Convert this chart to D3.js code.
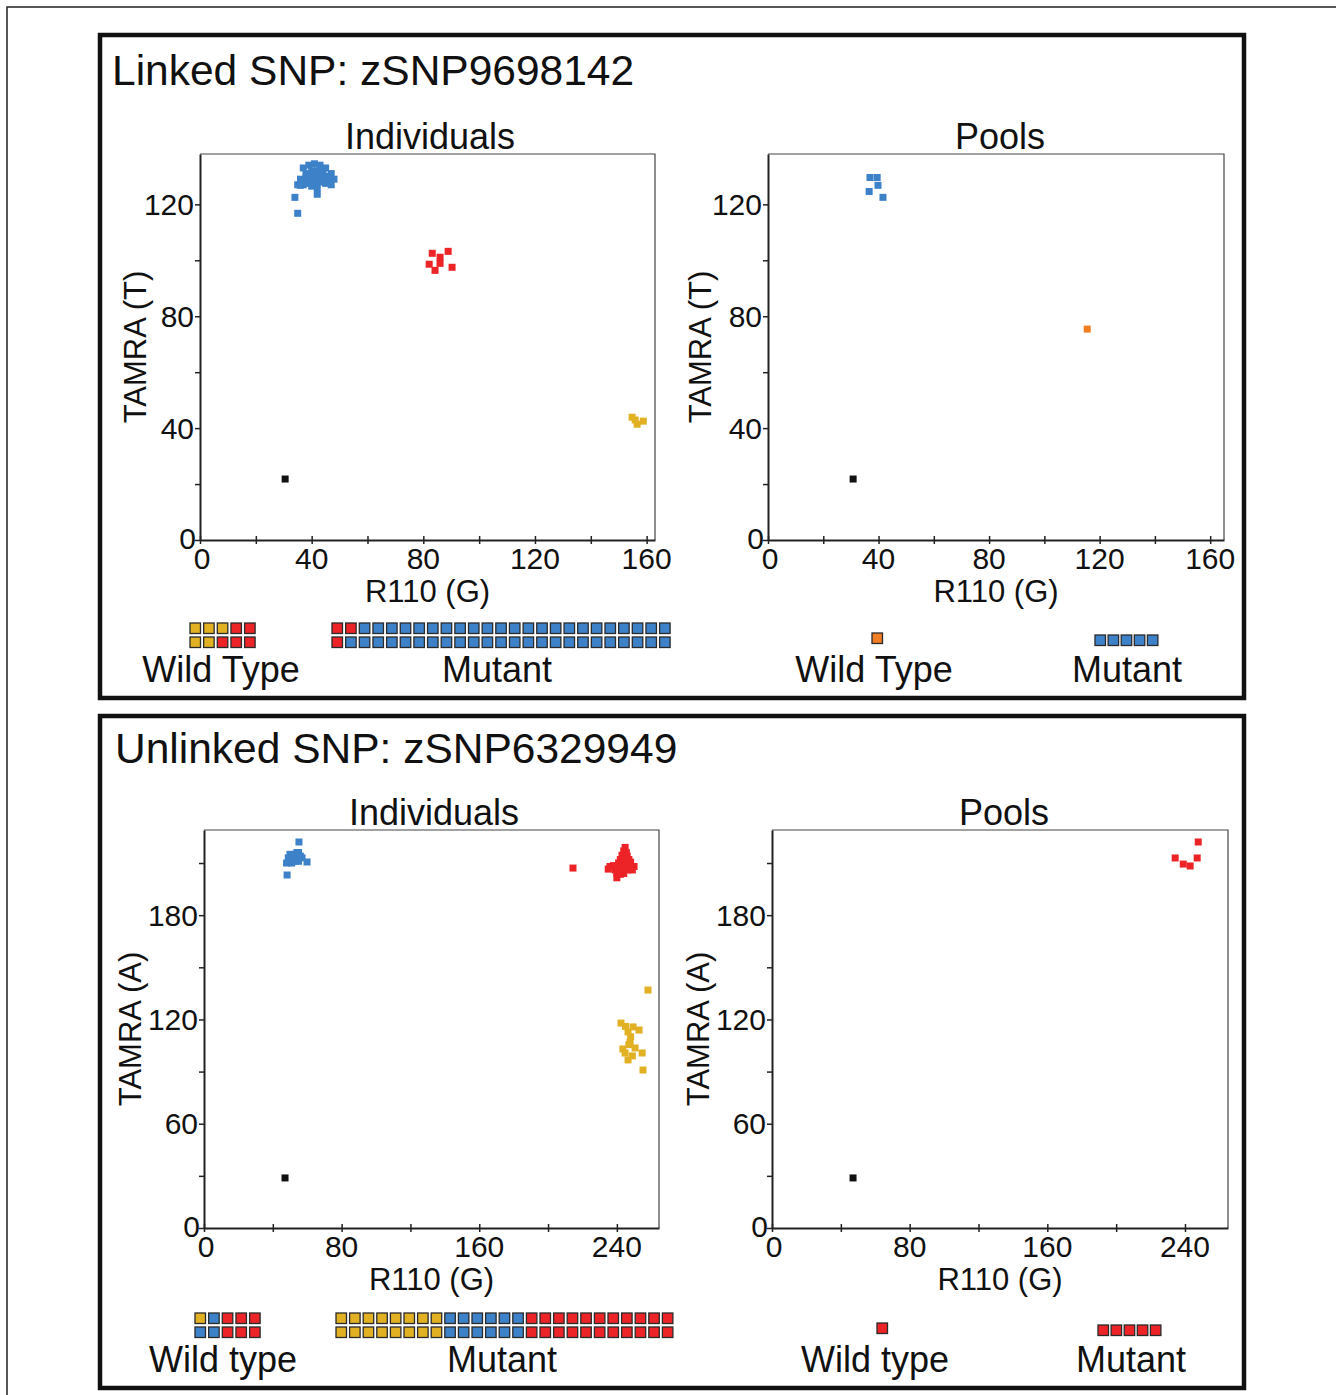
<!doctype html>
<html lang="en">
<head>
  <meta charset="utf-8">
  <title>Linked / unlinked SNP genotyping</title>
  <style>
    body { margin: 0; background: #fff; }
    svg text { font-family: "Liberation Sans", Arial, Helvetica, sans-serif; fill: #111; }
  </style>
</head>
<body>
<script src="https://d3js.org/d3.v7.min.js"></script>
<svg id="fig" width="1336" height="1395"></svg>
<script>
    // ---- data ----
    // linked SNP, individuals: [R110, TAMRA]
    var linkedIndBlue = [[37,133],[39,134],[41,134.5],[43,134],[45,133],[47,131],[38,131],[40,132],[42,132],
      [44,131],[46,130],[36,129],[38,129],[40,130],[42,130],[44,129],[46,128],[35,127],[37,127],[39,127.5],
      [41,128],[43,128],[45,127.5],[36,128.5],[40,126.5],[42,126],[38,130],[44,132.5],[41,131],[39,128.5],
      [43,130.5],[45,129.5],[36,126.8],[48,129],[34,122.5],[35,116.8],[42,123.6],[47,127]];
    var linkedIndRed = [[83.2,102.5],[88.9,103.2],[86,101.1],[86,98.9],[82.1,98.6],[84.2,96.4],[90.3,97.5]];
    var linkedIndYellow = [[154.8,43.9],[156.6,41.4],[158.8,42.5],[155.9,42.9]];
    var linkedIndBlack = [[30.5,21.8]];
    // linked SNP, pools
    var linkedPoolBlue = [[36.9,129.6],[39.5,129.6],[39.8,126.8],[36.6,124.6],[41.6,122.5]];
    var linkedPoolOrange = [[115.5,75.4]];
    var linkedPoolBlack = [[30.8,21.8]];
    // unlinked SNP, individuals
    var unlinkedIndBlue = [[49,213],[51,214],[53,215],[55,216],[50,211],[52,212],[54,213],[56,214],[48,210],
      [51,210],[53,211],[57,213],[55,211],[50,215],[54,216],[55.2,222.1],[59.9,210.6],[48.3,203.1]];
    var unlinkedIndRed = [[244.8,219],[244,217],[245.5,216],[243,214.5],[246,214],[244.5,212.5],[242,212],
      [247,212],[241,210],[243.5,210],[246,210],[248,210.5],[236,208],[238,208.5],[240,208],[242.5,208],
      [245,208],[247.5,208],[250,208],[235,206.5],[239,206],[243,206],[246,206],[249,206],[240,204],
      [242,203.5],[244,204],[240,201.5],[214.5,207.1]];
    var unlinkedIndYellow = [[242.4,117.9],[249.4,115.7],[252.9,113.9],[246.5,112.8],[247.7,107],[250.6,103.6],
      [244.8,100.7],[246.5,96.7],[254.7,100.7],[255.2,90.9],[258.1,136.9],[245,116],[248,110],[243.5,103],
      [249,99],[247,105.5]];
    var unlinkedIndBlack = [[47.1,28.8]];
    // unlinked SNP, pools
    var unlinkedPoolRed = [[247.7,222.1],[234.3,212.9],[247.1,212.9],[239,209.4],[243,208.3]];
    var unlinkedPoolBlack = [[47.1,28.8]];

    // genotype legend grids (row by row)
    var linkedIndWT = [["Y","Y","Y","R","R"],["Y","Y","R","R","R"]];
    var linkedIndMut = [["R","R"].concat(d3.range(23).map(function(){return "B";})),
                        ["R"].concat(d3.range(24).map(function(){return "B";}))];
    var linkedPoolWT = [["O"]];
    var linkedPoolMut = [["B","B","B","B","B"]];
    var unlinkedIndWT = [["Y","B","R","R","R"],["B","B","R","R","R"]];
    var unlinkedRow = d3.range(8).map(function(){return "Y";})
      .concat(d3.range(6).map(function(){return "B";}))
      .concat(d3.range(11).map(function(){return "R";}));
    var unlinkedIndMut = [unlinkedRow, unlinkedRow];
    var unlinkedPoolWT = [["R"]];
    var unlinkedPoolMut = [["R","R","R","R","R"]];

    var colors = { B: "#3d82c9", R: "#ec2327", Y: "#e1b123", O: "#f17e22", K: "#111" };

    var svg = d3.select("#fig");

    // outer page border and panel frames
    svg.append("rect").attr("x", 7).attr("y", 7).attr("width", 1345).attr("height", 1400)
      .attr("fill", "none").attr("stroke", "#222").attr("stroke-width", 1.5);
    [[35, 663], [716, 672]].forEach(function(p) {
      svg.append("rect").attr("x", 100).attr("y", p[0]).attr("width", 1144).attr("height", p[1])
        .attr("fill", "none").attr("stroke", "#111").attr("stroke-width", 4.5);
    });

    svg.append("text").attr("x", 112).attr("y", 85).attr("font-size", 42.5).text("Linked SNP: zSNP9698142");
    svg.append("text").attr("x", 115).attr("y", 763).attr("font-size", 42.5).text("Unlinked SNP: zSNP6329949");

    function scatter(o) {
      var x = d3.scaleLinear().domain(o.xDomain).range([o.left, o.right]);
      var y = d3.scaleLinear().domain(o.yDomain).range([o.bottom, o.top]);
      var g = svg.append("g");

      g.append("text").attr("x", o.titleX).attr("y", o.top - 5).attr("text-anchor", "middle")
        .attr("font-size", 36).text(o.title);

      // plot box: thin top/right, heavier axes
      g.append("path").attr("d", "M" + o.left + "," + o.top + "H" + o.right + "V" + o.bottom)
        .attr("fill", "none").attr("stroke", "#444").attr("stroke-width", 1.2);

      var xa = g.append("g").attr("transform", "translate(0," + o.bottom + ")")
        .call(d3.axisBottom(x).tickValues(d3.range(0, o.xDomain[1], o.xMinor)).tickSize(0).tickFormat(""));
      xa.selectAll(".tick").append("line").attr("y1", -4).attr("y2", 4).attr("stroke", "#222").attr("stroke-width", 1.5);
      xa.select(".domain").attr("stroke", "#222").attr("stroke-width", 2);
      o.xLabels.forEach(function(v) {
        g.append("text").attr("x", x(v) + (v === 0 ? 2 : 0)).attr("y", o.bottom + 29).attr("text-anchor", "middle")
          .attr("font-size", 30).text(v);
      });

      var ya = g.append("g").attr("transform", "translate(" + o.left + ",0)")
        .call(d3.axisLeft(y).tickValues(d3.range(0, o.yDomain[1], o.yMinor)).tickSize(0).tickFormat(""));
      ya.selectAll(".tick").append("line").attr("x1", -5).attr("x2", 0).attr("stroke", "#222").attr("stroke-width", 1.5);
      ya.select(".domain").attr("stroke", "#222").attr("stroke-width", 2);
      o.yLabels.forEach(function(v) {
        g.append("text").attr("x", o.left - (v === 0 ? 4 : 6)).attr("y", y(v) - (v === 0 ? 2 : 0)).attr("dy", "0.35em")
          .attr("text-anchor", "end").attr("font-size", 30).text(v);
      });

      g.append("text").attr("x", (o.left + o.right) / 2).attr("y", o.bottom + 62).attr("text-anchor", "middle")
        .attr("font-size", 31).text("R110 (G)");
      g.append("text").attr("transform", "translate(" + (o.left - o.yTitleOff) + "," + (o.top + o.bottom) / 2 + ") rotate(-90)")
        .attr("dy", "0.35em").attr("text-anchor", "middle").attr("font-size", 31).text(o.yTitle);

      o.series.forEach(function(s) {
        g.selectAll(null).data(s.data).enter().append("rect")
          .attr("x", function(d) { return x(d[0]) - 3.5; })
          .attr("y", function(d) { return y(d[1]) - 3.5; })
          .attr("width", 7).attr("height", 7)
          .attr("fill", colors[s.c]);
      });
    }

    function legendGrid(grid, x0, y0, pitch) {
      grid.forEach(function(row, r) {
        svg.selectAll(null).data(row).enter().append("rect")
          .attr("x", function(d, i) { return x0 + i * pitch; })
          .attr("y", y0 + r * 14)
          .attr("width", 10.5).attr("height", 10.5)
          .attr("fill", function(d) { return colors[d]; })
          .attr("stroke", "#2a2a2a").attr("stroke-width", 1.3);
      });
    }
    function legendText(t, x, y) {
      svg.append("text").attr("x", x).attr("y", y).attr("text-anchor", "middle").attr("font-size", 36).text(t);
    }

    // ---- linked SNP ----
    scatter({ left: 200, right: 655, top: 154, bottom: 540, xDomain: [0, 163], yDomain: [0, 138],
      xMinor: 20, yMinor: 20, xLabels: [0, 40, 80, 120, 160], yLabels: [0, 40, 80, 120],
      title: "Individuals", titleX: 430, yTitle: "TAMRA (T)", yTitleOff: 65,
      series: [{ data: linkedIndBlue, c: "B" }, { data: linkedIndRed, c: "R" },
               { data: linkedIndYellow, c: "Y" }, { data: linkedIndBlack, c: "K" }] });
    scatter({ left: 768, right: 1224, top: 154, bottom: 540, xDomain: [0, 165], yDomain: [0, 138],
      xMinor: 20, yMinor: 20, xLabels: [0, 40, 80, 120, 160], yLabels: [0, 40, 80, 120],
      title: "Pools", titleX: 1000, yTitle: "TAMRA (T)", yTitleOff: 68,
      series: [{ data: linkedPoolBlue, c: "B" }, { data: linkedPoolOrange, c: "O" },
               { data: linkedPoolBlack, c: "K" }] });

    legendGrid(linkedIndWT, 190, 623, 13.65);
    legendGrid(linkedIndMut, 332, 623, 13.65);
    legendGrid(linkedPoolWT, 872, 633, 13);
    legendGrid(linkedPoolMut, 1095, 635, 13.1);
    legendText("Wild Type", 221, 682);
    legendText("Mutant", 497, 682);
    legendText("Wild Type", 874, 682);
    legendText("Mutant", 1127, 682);

    // ---- unlinked SNP ----
    scatter({ left: 204, right: 659, top: 830, bottom: 1228, xDomain: [0, 264.5], yDomain: [0, 229],
      xMinor: 40, yMinor: 30, xLabels: [0, 80, 160, 240], yLabels: [0, 60, 120, 180],
      title: "Individuals", titleX: 434, yTitle: "TAMRA (A)", yTitleOff: 74,
      series: [{ data: unlinkedIndBlue, c: "B" }, { data: unlinkedIndRed, c: "R" },
               { data: unlinkedIndYellow, c: "Y" }, { data: unlinkedIndBlack, c: "K" }] });
    scatter({ left: 772, right: 1228, top: 830, bottom: 1228, xDomain: [0, 265], yDomain: [0, 229],
      xMinor: 40, yMinor: 30, xLabels: [0, 80, 160, 240], yLabels: [0, 60, 120, 180],
      title: "Pools", titleX: 1004, yTitle: "TAMRA (A)", yTitleOff: 74,
      series: [{ data: unlinkedPoolRed, c: "R" }, { data: unlinkedPoolBlack, c: "K" }] });

    legendGrid(unlinkedIndWT, 195, 1313, 13.65);
    legendGrid(unlinkedIndMut, 336, 1313, 13.6);
    legendGrid(unlinkedPoolWT, 877, 1323, 13);
    legendGrid(unlinkedPoolMut, 1098, 1325, 13.1);
    legendText("Wild type", 223, 1372);
    legendText("Mutant", 502, 1372);
    legendText("Wild type", 875, 1372);
    legendText("Mutant", 1131, 1372);
</script>
</body>
</html>
